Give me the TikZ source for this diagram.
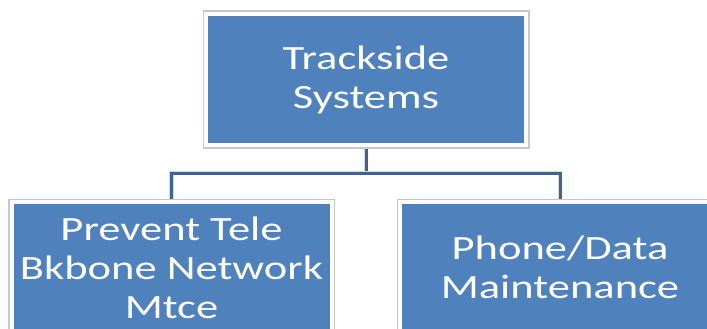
\documentclass[tikz,border=0pt]{standalone}
\usepackage{fontspec}
\setmainfont[FakeStretch=1.31]{Carlito}
\usetikzlibrary{backgrounds}
\definecolor{boxblue}{RGB}{79,129,189}
\definecolor{linkblue}{RGB}{60,100,152}
\tikzset{
  orgbox/.style={
    preaction={draw=black!22, line width=7pt},
    fill=boxblue, draw=white, line width=4pt,
    minimum width=320pt, minimum height=131pt, inner sep=0pt,
    text=white, align=center,
    font=\fontsize{34}{39}\selectfont
  },
  link/.style={
    preaction={draw=black!15, line width=4.5pt},
    draw=linkblue, line width=3pt
  }
}
\begin{document}
\begin{tikzpicture}[x=1pt, y=-1pt]
  \useasboundingbox (0,0) rectangle (707,329);
  \clip (0,0) rectangle (707,329);
  \node[orgbox] (top)   at (366,79.5)  {Trackside\\Systems};
  \node[orgbox] (left)  at (171.5,267.5) {Prevent Tele\\Bkbone Network\\Mtce};
  \node[orgbox] (right) at (560,267.5) {Phone/Data\\Maintenance};
  \coordinate (bus) at (366,173);
  \begin{scope}[on background layer]
    \draw[link] (top.south) -- (bus);
    \draw[link] (left.north) |- (bus) -| (right.north);
  \end{scope}
\end{tikzpicture}
\end{document}
